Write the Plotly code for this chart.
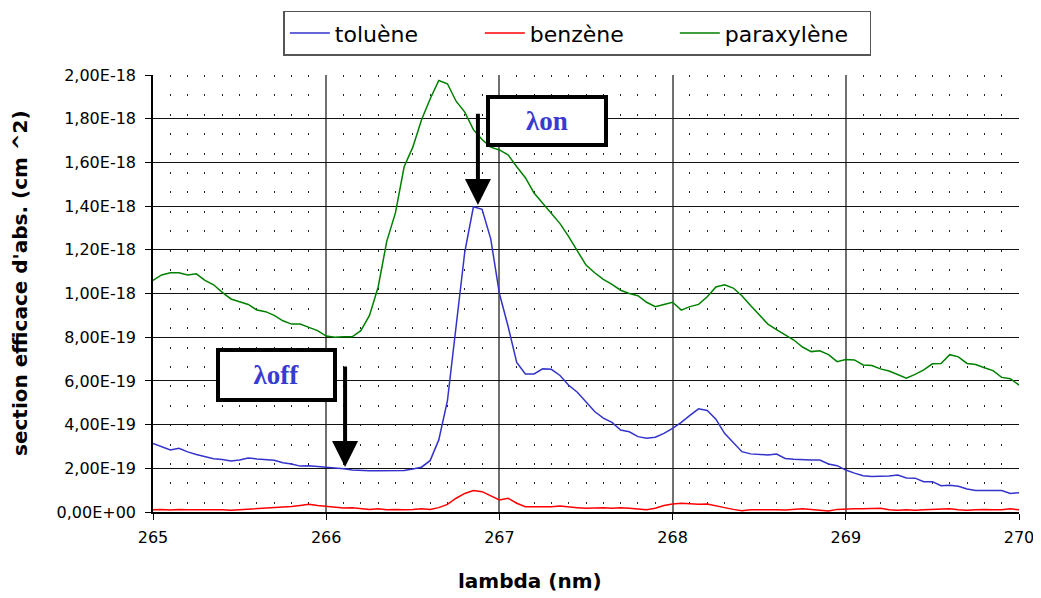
import plotly.graph_objects as go

# wavelength grid (nm), step 0.05
lambda_nm = [round(265 + 0.05 * i, 2) for i in range(101)]

# values in units of 1e-19 cm^2
toluene = [
    3.14, 3.0, 2.84, 2.92, 2.75, 2.63, 2.55, 2.44, 2.4, 2.33,
    2.38, 2.47, 2.43, 2.4, 2.37, 2.25, 2.2, 2.1, 2.12, 2.08,
    2.05, 2.02, 1.98, 1.92, 1.89, 1.89, 1.89, 1.89, 1.92, 1.9,
    1.97, 2.05, 2.35, 3.3, 5.1, 8.6, 11.9, 13.97, 13.85, 12.5,
    10.0, 8.5, 6.85, 6.32, 6.32, 6.55, 6.53, 6.25, 5.8, 5.48,
    5.05, 4.6, 4.3, 4.1, 3.75, 3.67, 3.45, 3.38, 3.42, 3.6,
    3.83, 4.1, 4.42, 4.72, 4.65, 4.25, 3.6, 3.2, 2.76, 2.66,
    2.64, 2.61, 2.65, 2.45, 2.41, 2.38, 2.38, 2.38, 2.2, 2.12,
    1.92, 1.78, 1.66, 1.62, 1.62, 1.65, 1.69, 1.56, 1.55, 1.39,
    1.39, 1.2, 1.22, 1.18, 1.05, 0.98, 0.98, 0.98, 0.98, 0.85,
    0.88,
]
benzene = [
    0.1, 0.12, 0.09, 0.12, 0.1, 0.1, 0.12, 0.09, 0.1, 0.08,
    0.1, 0.15, 0.15, 0.18, 0.2, 0.2, 0.25, 0.3, 0.35, 0.3,
    0.25, 0.22, 0.18, 0.2, 0.15, 0.12, 0.15, 0.1, 0.12, 0.1,
    0.12, 0.15, 0.12, 0.2, 0.35, 0.63, 0.85, 0.98, 0.93, 0.73,
    0.55, 0.63, 0.4, 0.24, 0.24, 0.22, 0.24, 0.27, 0.25, 0.2,
    0.17, 0.2, 0.2, 0.17, 0.2, 0.17, 0.12, 0.1, 0.17, 0.3,
    0.37, 0.4, 0.38, 0.35, 0.37, 0.3, 0.2, 0.12, 0.06, 0.1,
    0.11, 0.1, 0.1, 0.09, 0.12, 0.15, 0.12, 0.1, 0.05, 0.12,
    0.15, 0.15, 0.15, 0.15, 0.17, 0.1, 0.08, 0.1, 0.08, 0.1,
    0.12, 0.15, 0.15, 0.1, 0.08, 0.1, 0.12, 0.1, 0.1, 0.15,
    0.1,
]
paraxylene = [
    10.6, 10.85, 10.95, 10.95, 10.85, 10.9, 10.6, 10.4, 10.05, 9.75,
    9.62, 9.5, 9.24, 9.17, 9.0, 8.75, 8.6, 8.6, 8.45, 8.3,
    8.05, 8.0, 8.02, 8.02, 8.3, 9.0, 10.3, 12.4, 13.7, 15.8,
    16.7, 17.94, 18.9, 19.75, 19.6, 18.8, 18.3, 17.5, 17.05, 16.7,
    16.57, 16.35, 15.8, 15.3, 14.6, 14.15, 13.7, 13.2, 12.6, 11.95,
    11.3, 10.95, 10.65, 10.42, 10.15, 10.0, 9.9, 9.6, 9.4, 9.5,
    9.6, 9.24, 9.4, 9.5, 9.85, 10.3, 10.4, 10.25, 9.9, 9.45,
    9.0, 8.6, 8.35, 8.1, 7.87, 7.55, 7.34, 7.38, 7.2, 6.88,
    6.98, 6.96, 6.73, 6.7, 6.55, 6.45, 6.3, 6.12, 6.3, 6.5,
    6.78, 6.8, 7.2, 7.1, 6.8, 6.75, 6.6, 6.47, 6.16, 6.1,
    5.81,
]

y_tickvals = [i * 2e-19 for i in range(11)]
y_ticktext = ["0,00E+00", "2,00E-19", "4,00E-19", "6,00E-19", "8,00E-19",
              "1,00E-18", "1,20E-18", "1,40E-18", "1,60E-18", "1,80E-18", "2,00E-18"]
x_tickvals = [265, 266, 267, 268, 269, 270]

scale = 1e-19
fig = go.Figure()
series = [("toluène", toluene, "#3333cc"),
          ("benzène", benzene, "#ff0000"),
          ("paraxylène", paraxylene, "#008000")]
for name, vals, col in series:
    fig.add_trace(go.Scatter(
        x=lambda_nm, y=[v * scale for v in vals], mode="lines", name=name,
        line=dict(color=col, width=1.5),
    ))

font_family = "DejaVu Sans, Arial, sans-serif"

fig.update_layout(
    width=1033, height=590,
    margin=dict(l=145, r=22, t=67, b=86, autoexpand=False),
    paper_bgcolor="white", plot_bgcolor="white",
    font=dict(family=font_family, color="black", size=15),
    showlegend=True,
    legend=dict(
        orientation="h", x=0.49, xanchor="center", y=1.147, yanchor="top",
        bordercolor="#555555", borderwidth=1.5, bgcolor="white",
        font=dict(size=22, family=font_family),
        entrywidth=140, itemwidth=40, tracegroupgap=0,
    ),
    xaxis=dict(
        range=[265, 270], tickvals=x_tickvals, ticktext=[str(v) for v in x_tickvals],
        showgrid=True, gridcolor="#707070", gridwidth=1.5,
        showline=True, linecolor="black", linewidth=1.5,
        ticks="outside", ticklen=6, tickcolor="black",
        tickfont=dict(size=16), zeroline=False, ticklabelstandoff=4,
        minor=dict(dtick=0.1, tick0=265, showgrid=True, gridcolor="#222222",
                   gridwidth=1, griddash="2px,17.4px", ticks=""),
    ),
    yaxis=dict(
        range=[0, 2e-18], tickvals=y_tickvals, ticktext=y_ticktext,
        showgrid=True, gridcolor="#111111", gridwidth=1,
        showline=True, linecolor="black", linewidth=1.5,
        ticks="outside", ticklen=6, tickcolor="black",
        tickfont=dict(size=16), zeroline=False, ticklabelstandoff=6,
    ),
)

# axis titles
fig.add_annotation(text="<b>lambda (nm)</b>", xref="paper", yref="paper",
                   x=0.435, y=-0.158, showarrow=False, xanchor="center", yanchor="middle",
                   font=dict(size=20, family=font_family))
fig.add_annotation(text="<b>section efficace d'abs. (cm ^2)</b>", xref="paper", yref="paper",
                   x=-0.1536, y=0.524, showarrow=False, textangle=-90,
                   xanchor="center", yanchor="middle",
                   font=dict(size=20, family=font_family))

# lambda on / off labels
lam_font = dict(family="Liberation Serif, Times New Roman, serif", size=27, color="#3a3ad0")
fig.add_annotation(text="<b>λon</b>", x=267.275, y=1.79e-18, xref="x", yref="y",
                   showarrow=False, bordercolor="black", borderwidth=4, bgcolor="white",
                   width=112, height=42, font=lam_font)
fig.add_annotation(text="<b>λoff</b>", x=265.713, y=6.27e-19, xref="x", yref="y",
                   showarrow=False, bordercolor="black", borderwidth=4, bgcolor="white",
                   width=111, height=44, font=lam_font)

# arrows
fig.add_annotation(x=266.876, y=1.405e-18, ax=266.876, ay=1.83e-18,
                   xref="x", yref="y", axref="x", ayref="y", text="",
                   showarrow=True, arrowhead=2, arrowsize=1.3, arrowwidth=4, arrowcolor="black")
fig.add_annotation(x=266.109, y=2.06e-19, ax=266.109, ay=6.73e-19,
                   xref="x", yref="y", axref="x", ayref="y", text="",
                   showarrow=True, arrowhead=2, arrowsize=1.3, arrowwidth=4, arrowcolor="black")

fig.write_html("out.html")
